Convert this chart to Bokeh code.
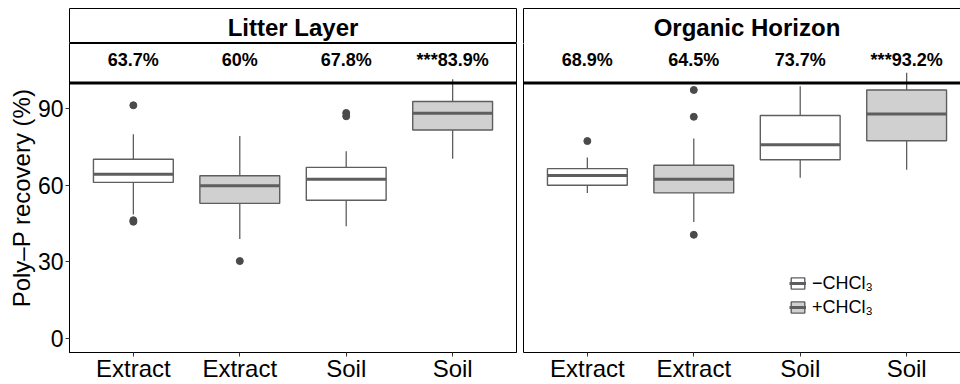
import numpy as np
from bokeh.plotting import figure
from bokeh.models import (Range1d, FixedTicker, Span, Label,
                          LinearAxis, Legend, LegendItem, ColumnDataSource)
from bokeh.layouts import row, column
from bokeh.core.properties import value
from bokeh.embed import file_html
from bokeh.resources import INLINE

# ---------------- data ----------------
cat_pos = [1, 2, 3, 4]
cat_labels = ["Extract", "Extract", "Soil", "Soil"]
treatment = ["\u2212CHCl\u2083", "+CHCl\u2083", "\u2212CHCl\u2083", "+CHCl\u2083"]

lit_q1 = [61.1, 52.9, 54.1, 81.6]
lit_med = [64.3, 59.8, 62.3, 88.2]
lit_q3 = [70.2, 63.7, 67.0, 92.8]
lit_lo = [48.5, 38.9, 43.9, 70.4]
lit_hi = [80.0, 79.3, 73.3, 101.5]
lit_out_x = [1, 1, 1, 2, 3, 3]
lit_out_y = [91.3, 46.3, 45.7, 30.3, 88.3, 87.0]
lit_ann = ["63.7%", "60%", "67.8%", "***83.9%"]

org_q1 = [60.0, 57.0, 70.0, 77.4]
org_med = [63.8, 62.3, 75.9, 87.9]
org_q3 = [66.5, 67.8, 87.3, 97.3]
org_lo = [57.0, 45.6, 62.9, 66.1]
org_hi = [70.9, 78.3, 98.8, 104.0]
org_out_x = [1, 2, 2, 2]
org_out_y = [77.3, 97.3, 86.8, 40.6]
org_ann = ["68.9%", "64.5%", "73.7%", "***93.2%"]

y_ticks = [0, 30, 60, 90]
ref_line = 100
ann_y = 108.9
y_lo, y_hi = -5.5, 115.5

FONT = "Liberation Sans"
BOX_LINE = "#5e5e5e"
FILLS = {"\u2212CHCl\u2083": "#ffffff", "+CHCl\u2083": "#cfd0cf"}
BOX_W = 0.75
PX_PER_UNIT = 447 / 4.2


def line_only_axis(ax):
    ax.ticker = FixedTicker(ticks=[])
    ax.major_tick_in = 0
    ax.major_tick_out = 0
    ax.minor_tick_line_color = None
    ax.major_label_text_font_size = "0px"
    ax.major_label_standoff = 0
    ax.axis_line_color = "black"
    ax.axis_line_width = 1


def make_strip(title, width, x_end, first):
    s = figure(width=width, height=43, output_backend="svg", toolbar_location=None,
               x_range=Range1d(0.4, x_end), y_range=Range1d(0, 1),
               min_border_top=8, min_border_bottom=0,
               min_border_left=69 if first else 4,
               min_border_right=3 if first else 0)
    s.xgrid.visible = False
    s.ygrid.visible = False
    if first:
        s.xaxis.visible = False
        s.yaxis.visible = False
        s.outline_line_color = "black"
    else:
        s.outline_line_color = None
        line_only_axis(s.xaxis[0])
        line_only_axis(s.yaxis[0])
        top = LinearAxis()
        line_only_axis(top)
        s.add_layout(top, "above")
    s.add_layout(Label(x=2.5, y=0.45, text=title, text_align="center",
                       text_baseline="middle", text_font=FONT,
                       text_font_size="24px", text_font_style="bold",
                       text_color="black"))
    return s


def make_panel(q1, med, q3, lo, hi, ox, oy, ann, width, x_end, first):
    p = figure(width=width, height=341, output_backend="svg", toolbar_location=None,
               x_range=Range1d(0.4, x_end), y_range=Range1d(y_lo, y_hi),
               min_border_top=0, min_border_bottom=0,
               min_border_left=69 if first else 4,
               min_border_right=3 if first else 0)
    p.xgrid.visible = False
    p.ygrid.visible = False
    p.outline_line_color = "black" if first else None

    renderers = {}
    for t in ["\u2212CHCl\u2083", "+CHCl\u2083"]:
        idx = [i for i, tt in enumerate(treatment) if tt == t]
        x = np.array([cat_pos[i] for i in idx], dtype=float)
        src = ColumnDataSource(dict(
            x=x, q1=[q1[i] for i in idx], med=[med[i] for i in idx],
            q3=[q3[i] for i in idx], lo=[lo[i] for i in idx], hi=[hi[i] for i in idx],
            xl=x - BOX_W / 2, xr=x + BOX_W / 2))
        p.segment(x0="x", x1="x", y0="q3", y1="hi", source=src,
                  line_color=BOX_LINE, line_width=1.3)
        p.segment(x0="x", x1="x", y0="q1", y1="lo", source=src,
                  line_color=BOX_LINE, line_width=1.3)
        b = p.vbar(x="x", width=BOX_W, bottom="q1", top="q3", source=src,
                   fill_color=FILLS[t], line_color=BOX_LINE, line_width=1.4)
        m = p.segment(x0="xl", x1="xr", y0="med", y1="med", source=src,
                      line_color=BOX_LINE, line_width=3)
        renderers[t] = (b, m)

    p.scatter(ox, oy, size=7, color="#4a4a4a")

    p.add_layout(Span(location=ref_line, dimension="width",
                      line_color="black", line_width=3))
    p.text(x=cat_pos, y=[ann_y] * 4, text=ann, text_align="center",
           text_baseline="middle", text_font=value(FONT),
           text_font_size="18px", text_font_style="bold", text_color="black")

    xa = p.xaxis[0]
    xa.ticker = FixedTicker(ticks=cat_pos)
    xa.major_label_overrides = {c: l for c, l in zip(cat_pos, cat_labels)}
    xa.major_label_text_font = FONT
    xa.major_label_text_font_size = "24px"
    xa.major_label_text_color = "black"
    xa.major_label_standoff = -2
    xa.major_tick_in = 0
    xa.major_tick_out = 4
    xa.major_tick_line_color = "#333333"
    xa.minor_tick_line_color = None
    xa.axis_line_color = "black"

    ya = p.yaxis[0]
    if first:
        ya.ticker = FixedTicker(ticks=y_ticks)
        ya.major_label_text_font = FONT
        ya.major_label_text_font_size = "23px"
        ya.major_label_text_color = "black"
        ya.major_label_standoff = 2
        ya.major_tick_in = 0
        ya.major_tick_out = 4
        ya.major_tick_line_color = "#333333"
        ya.minor_tick_line_color = None
        ya.axis_line_color = "black"
        ya.axis_label = "Poly\u2013P recovery (%)"
        ya.axis_label_text_font = FONT
        ya.axis_label_text_font_size = "24px"
        ya.axis_label_text_font_style = "normal"
        ya.axis_label_text_color = "black"
        ya.axis_label_standoff = 0
    else:
        line_only_axis(ya)
    return p, renderers


W1 = 519
W2 = 441
x_end2 = 0.4 + (W2 - 4) / PX_PER_UNIT

s1 = make_strip("Litter Layer", W1, 4.6, True)
s2 = make_strip("Organic Horizon", W2, x_end2, False)
p1, _ = make_panel(lit_q1, lit_med, lit_q3, lit_lo, lit_hi,
                   lit_out_x, lit_out_y, lit_ann, W1, 4.6, True)
p2, r2 = make_panel(org_q1, org_med, org_q3, org_lo, org_hi,
                    org_out_x, org_out_y, org_ann, W2, x_end2, False)

legend = Legend(items=[
    LegendItem(label="\u2212CHCl\u2083", renderers=list(r2["\u2212CHCl\u2083"])),
    LegendItem(label="+CHCl\u2083", renderers=list(r2["+CHCl\u2083"])),
], location=(266, 34), padding=0, margin=0, spacing=2,
    glyph_width=17, glyph_height=14, label_height=22, label_standoff=6,
    label_text_font=FONT, label_text_font_size="18px", label_text_color="black",
    background_fill_alpha=0, border_line_color=None)
p2.add_layout(legend)

layout = row(column(s1, p1), column(s2, p2))
open("out.html", "w").write(file_html(layout, INLINE))
